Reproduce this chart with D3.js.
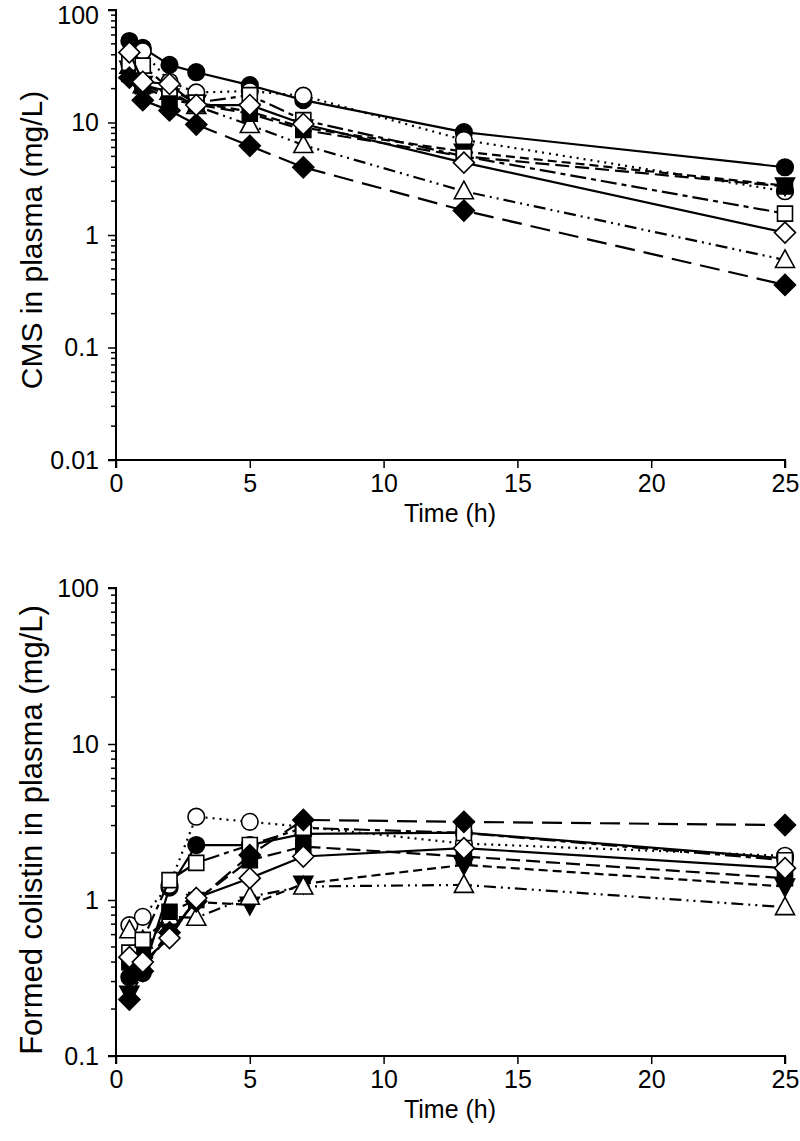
<!DOCTYPE html>
<html><head><meta charset="utf-8">
<script src="https://cdn.jsdelivr.net/npm/d3@7"></script>
<style>
html,body{margin:0;padding:0;background:#fff;}
text{font-family:"Liberation Sans",Arial,sans-serif;fill:#000;}
</style></head>
<body><svg id="chart" width="800" height="1141"></svg>
<script>
const times = [0.5, 1, 2, 3, 5, 7, 13, 25];
const seriesNames = ["S1","S2","S3","S4","S5","S6","S7","S8"];
// CMS in plasma (mg/L)
const cms1 = [53, 46, 32.5, 28, 21.5, 15.8, 8.2, 4.0];
const cms2 = [33, 43, 23, 18.5, 19, 17.3, 7.0, 2.45];
const cms3 = [30, 22, 17, 15, 12.5, 9, 5.5, 2.75];
const cms4 = [32, 21.5, 18.8, 14, 9.5, 6.3, 2.45, 0.6];
const cms5 = [27, 21, 16, 14.5, 12, 8.6, 5.0, 2.7];
const cms6 = [34, 32, 20, 15, 17.5, 10.5, 5.0, 1.55];
const cms7 = [25, 15.8, 12.8, 9.6, 6.2, 4.0, 1.65, 0.36];
const cms8 = [42, 23, 22, 14.3, 14.3, 9.7, 4.4, 1.05];
// Formed colistin in plasma (mg/L)
const col1 = [0.32, 0.34, 1.2, 2.25, 2.25, 2.65, 2.7, 1.85];
const col2 = [0.69, 0.78, 1.25, 3.42, 3.17, 2.95, 2.3, 1.92];
const col3 = [0.25, 0.36, 0.64, 0.97, 0.93, 1.27, 1.68, 1.22];
const col4 = [0.64, 0.55, 0.78, 0.77, 1.05, 1.22, 1.25, 0.9];
const col5 = [0.4, 0.45, 0.84, 1.0, 1.8, 2.2, 1.9, 1.38];
const col6 = [0.46, 0.555, 1.34, 1.73, 2.25, 2.9, 2.69, 1.8];
const col7 = [0.23, 0.35, 0.62, 0.98, 1.94, 3.26, 3.17, 3.02];
const col8 = [0.43, 0.40, 0.57, 1.03, 1.38, 1.9, 2.15, 1.6];

const xTicks = [0, 5, 10, 15, 20, 25];
const yTicksTop = [0.01, 0.1, 1, 10, 100];
const yTicksBottom = [0.1, 1, 10, 100];
const xTitle = "Time (h)";
const yTitleTop = "CMS in plasma (mg/L)";
const yTitleBottom = "Formed colistin in plasma (mg/L)";

// styling per series (symbol, filled, dash)
const styles = [
  {sym:"circle", fill:true, dash:null},
  {sym:"circle", fill:false, dash:"2,5"},
  {sym:"tridown", fill:true, dash:"9,5"},
  {sym:"triup", fill:false, dash:"12,5,2,5,2,5"},
  {sym:"square", fill:true, dash:"14,6"},
  {sym:"square", fill:false, dash:"16,5,5,5"},
  {sym:"diamond", fill:true, dash:"20,9"},
  {sym:"diamond", fill:false, dash:null}
];

function symPath(s){
  switch(s){
    case "circle": return d3.symbol(d3.symbolCircle, Math.PI*8.3*8.3)();
    case "square": return "M-7.5,-7.5H7.5V7.5H-7.5Z";
    case "diamond": return "M0,-10.5L10.5,0L0,10.5L-10.5,0Z";
    case "triup": return "M0,-10L9.5,7.5H-9.5Z";
    case "tridown": return "M0,10L9.5,-7.5H-9.5Z";
  }
}

const svg = d3.select("#chart");

function panel(cfg){
  const x = d3.scaleLinear().domain([0,25]).range([116,785]);
  const y = d3.scaleLog().domain(cfg.domain).range([cfg.bottom, cfg.top]);
  const g = svg.append("g");
  // y axis
  const yAx = d3.axisLeft(y).tickValues(cfg.yTicks).tickFormat(d=>String(d)).tickSize(8).tickPadding(9);
  const ya = g.append("g").attr("transform","translate(116,0)").call(yAx);
  // minor ticks
  const minors = [];
  for (let e = Math.log10(cfg.domain[0]); e < Math.log10(cfg.domain[1]) - 1e-9; e++){
    for (let m = 2; m <= 9; m++) minors.push(m*Math.pow(10,e));
  }
  g.append("g").selectAll("line").data(minors).join("line")
    .attr("x1",111).attr("x2",116).attr("y1",d=>y(d)).attr("y2",d=>y(d))
    .attr("stroke","#000").attr("stroke-width",1.5);
  // x axis
  const xAx = d3.axisBottom(x).tickValues(xTicks).tickSize(8).tickPadding(6);
  const xa = g.append("g").attr("transform",`translate(0,${cfg.bottom})`).call(xAx);
  [ya,xa].forEach(a=>{
    a.select(".domain").attr("stroke","#000").attr("stroke-width",2);
    a.selectAll(".tick line").attr("stroke","#000").attr("stroke-width",1.5);
    a.selectAll("text").attr("font-size",25).attr("font-family","Liberation Sans, Arial, sans-serif");
  });
  ya.selectAll(".tick text").filter(d=>d===100 && cfg.top<20).attr("dy","0.55em");
  ya.select(".domain").attr("d",`M-8,${cfg.bottom}H0V${cfg.top}H-8`);
  xa.select(".domain").attr("d",`M116,8V0H785V8`);
  // titles
  g.append("text").attr("x",450).attr("y",cfg.bottom+62).attr("text-anchor","middle")
    .attr("font-size",25).text(xTitle);
  g.append("text").attr("transform",`translate(42,${cfg.titleY}) rotate(-90)`)
    .attr("text-anchor","middle").attr("font-size",cfg.titleSize).text(cfg.yTitle);
  // series
  const line = d3.line().x(d=>x(d[0])).y(d=>y(d[1]));
  cfg.data.forEach((vals,i)=>{
    const st = styles[i];
    const pts = times.map((t,j)=>[t,vals[j]]);
    const sg = g.append("g").attr("class","series").attr("data-name",seriesNames[i]);
    sg.append("path").attr("d",line(pts)).attr("fill","none").attr("stroke","#000")
      .attr("stroke-width",2.2).attr("stroke-dasharray",st.dash);
    sg.selectAll("path.m").data(pts).join("path").attr("class","m")
      .attr("d",symPath(st.sym))
      .attr("transform",d=>`translate(${x(d[0])},${y(d[1])})`)
      .attr("fill",st.fill?"#000":"#fff").attr("stroke","#000").attr("stroke-width",1.6);
  });
}

panel({domain:[0.01,100], top:10, bottom:460, yTicks:yTicksTop, yTitle:yTitleTop,
  titleY:240, titleSize:30, data:[cms1,cms2,cms3,cms4,cms5,cms6,cms7,cms8]});
panel({domain:[0.1,100], top:588, bottom:1056, yTicks:yTicksBottom, yTitle:yTitleBottom,
  titleY:830, titleSize:31, data:[col1,col2,col3,col4,col5,col6,col7,col8]});
</script></body></html>
